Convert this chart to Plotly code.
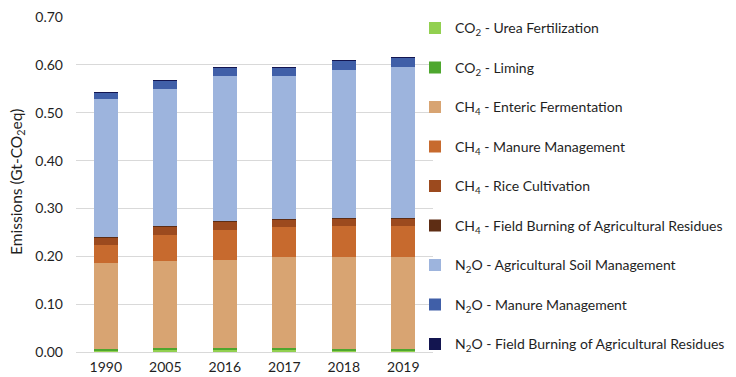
import plotly.graph_objects as go

years = ["1990", "2005", "2016", "2017", "2018", "2019"]

co2_urea = [0.004, 0.005, 0.005, 0.005, 0.004, 0.004]
co2_liming = [0.003, 0.004, 0.004, 0.004, 0.003, 0.003]
ch4_enteric = [0.178, 0.181, 0.184, 0.189, 0.192, 0.192]
ch4_manure = [0.038, 0.054, 0.063, 0.063, 0.064, 0.064]
ch4_rice = [0.017, 0.019, 0.017, 0.016, 0.017, 0.017]
ch4_burning = [0.001, 0.001, 0.001, 0.001, 0.001, 0.001]
n2o_soil = [0.288, 0.286, 0.302, 0.299, 0.309, 0.3145]
n2o_manure = [0.0135, 0.0165, 0.018, 0.018, 0.019, 0.019]
n2o_burning = [0.0003, 0.0003, 0.0003, 0.0003, 0.0003, 0.0003]
y_ticks = [0.0, 0.1, 0.2, 0.3, 0.4, 0.5, 0.6, 0.7]

series = [
    ("CO<sub>2</sub> - Urea Fertilization", co2_urea, "#92D050"),
    ("CO<sub>2</sub> - Liming", co2_liming, "#4EA72E"),
    ("CH<sub>4</sub> - Enteric Fermentation", ch4_enteric, "#D8A472"),
    ("CH<sub>4</sub> - Manure Management", ch4_manure, "#C76A2E"),
    ("CH<sub>4</sub> - Rice Cultivation", ch4_rice, "#9C4A1E"),
    ("CH<sub>4</sub> - Field Burning of Agricultural Residues", ch4_burning, "#5E2D14"),
    ("N<sub>2</sub>O - Agricultural Soil Management", n2o_soil, "#9DB4DD"),
    ("N<sub>2</sub>O - Manure Management", n2o_manure, "#405FA8"),
    ("N<sub>2</sub>O - Field Burning of Agricultural Residues", n2o_burning, "#131550"),
]

fig = go.Figure()
for i, (name, vals, color) in enumerate(series):
    fig.add_trace(go.Bar(
        x=years, y=vals, name=name, legendgroup=f"g{i}",
        marker=dict(color=color, line=dict(width=0)),
    ))

# The page places the figure 8px from the top-left corner (default body margin),
# so the figure is sized to the remaining visible area.
W, H = 728, 369
L, R, T, B = 68, 303, 9, 25
PW = W - L - R
PH = H - T - B

font_family = "Lato, 'Noto Sans', sans-serif"
txt = "#1F1F1F"
fig.update_layout(
    barmode="stack",
    bargap=0.6,
    width=W, height=H,
    margin=dict(l=L, r=R, t=T, b=B, autoexpand=False),
    paper_bgcolor="white", plot_bgcolor="white",
    font=dict(family=font_family, size=13, color=txt),
    legend=dict(
        x=(407 - L) / PW, xanchor="left",
        yref="container", y=1 - 4.4 / H, yanchor="top",
        maxheight=H,
        traceorder="grouped", tracegroupgap=18.3,
        font=dict(size=14, color=txt),
        itemwidth=30, bgcolor="rgba(0,0,0,0)",
    ),
    xaxis=dict(
        showline=True, linecolor="#D9D9D9", linewidth=1,
        ticks="", ticklabelstandoff=2,
        tickfont=dict(size=14, color=txt), automargin=False,
    ),
    yaxis=dict(
        range=[0, 0.7001], tickvals=y_ticks, tickformat=".2f",
        showgrid=True, gridcolor="#D9D9D9", gridwidth=1,
        zeroline=False, ticks="", ticklen=0, ticklabelstandoff=12,
        ticklabeloverflow="allow",
        tickfont=dict(size=14, color=txt), automargin=False,
    ),
    annotations=[dict(
        text="Emissions (Gt-CO<sub>2</sub>eq)", textangle=-90,
        xref="paper", yref="paper", x=(9 - L) / PW, y=(344 - 174) / PH,
        xanchor="center", yanchor="middle", showarrow=False,
        font=dict(size=15.5, color=txt),
    )],
)

fig.write_html("out.html")
